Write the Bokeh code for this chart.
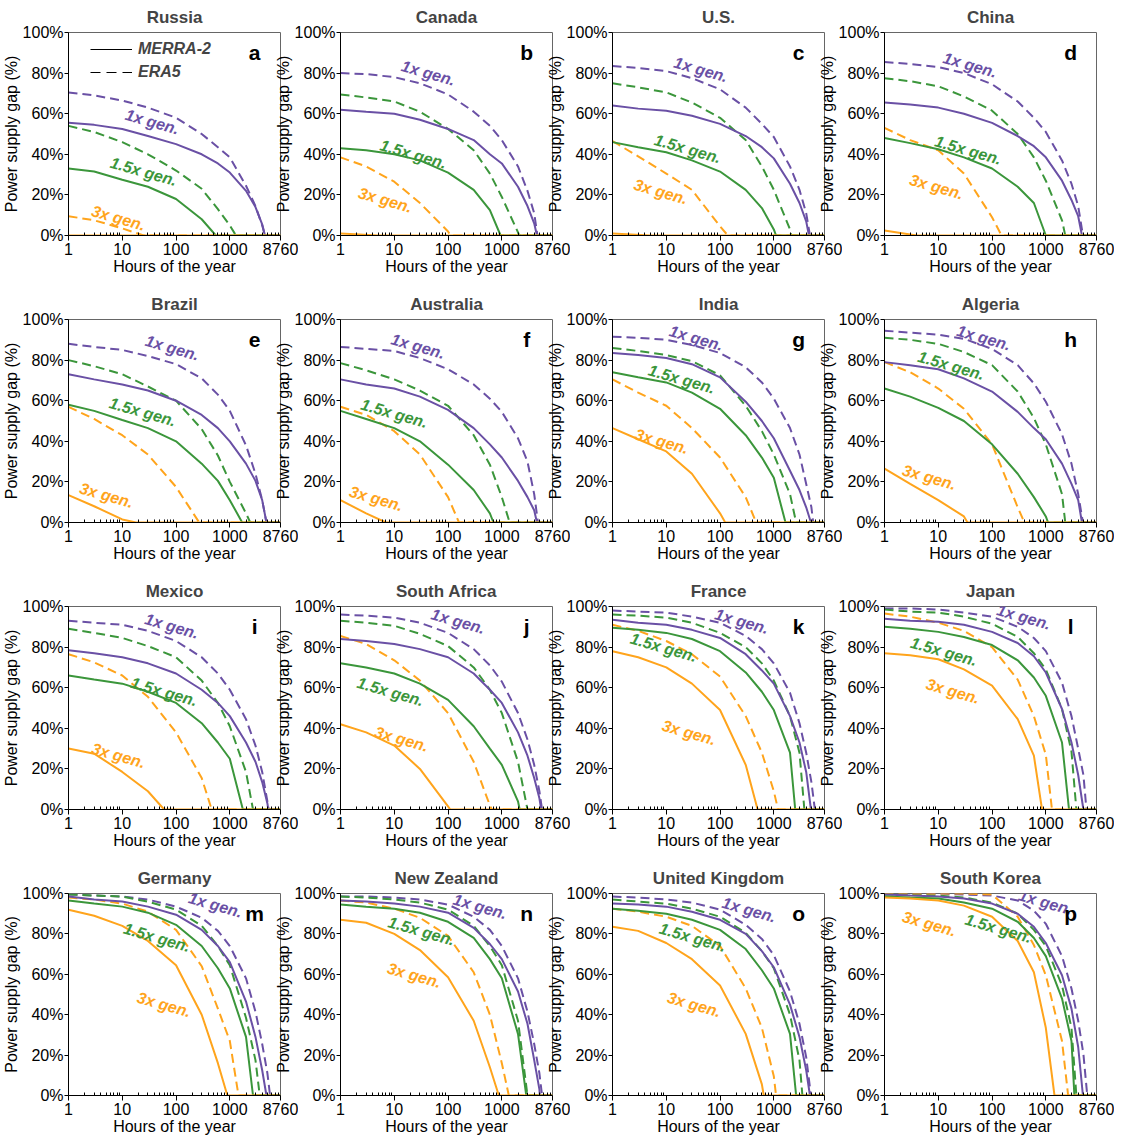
from bokeh.plotting import figure
from bokeh.layouts import row, column
from bokeh.models import (Range1d, FixedTicker, PrintfTickFormatter, Legend, LegendItem,
                          Label, ColumnDataSource)
from bokeh.core.properties import value
from bokeh.embed import file_html
from bokeh.resources import INLINE

# ---------------- data ----------------
# Values (%) at these hours; each series ends at 0 % at its "end" hour and stays 0 until 8760.
HOURS = [1, 3, 10, 30, 100, 300, 600, 1000, 2000, 3000, 4000, 5000]
YEAR_END = 8760

RUSSIA = {
    ("1x", "ERA5"): ([70.5, 69, 66.5, 63, 58, 50, 43.5, 38.5, 24.5, 14.5, 5], 4500),
    ("1x", "MERRA-2"): ([55.5, 54.5, 52.5, 49, 45, 40, 35.5, 31, 22, 14, 5.5], 4500),
    ("1.5x", "ERA5"): ([54, 51, 46, 40, 32, 23, 13, 5], 1300),
    ("1.5x", "MERRA-2"): ([33, 31.5, 27.5, 24, 18, 8], 550),
    ("3x", "ERA5"): ([9.5, 7.5, 3.5], 25),
    ("3x", "MERRA-2"): ([], 1),
}
CANADA = {
    ("1x", "ERA5"): ([80, 79.5, 78, 75, 69.5, 61, 54, 47, 34, 22, 11], 4600),
    ("1x", "MERRA-2"): ([62, 61, 60, 57, 52.5, 47, 40, 35.5, 24, 14.5, 6], 4500),
    ("1.5x", "ERA5"): ([69.5, 68, 66, 61, 52.5, 42, 30.5, 19, 1.5], 2100),
    ("1.5x", "MERRA-2"): ([43, 42, 40, 37, 31, 22.5, 12.5], 950),
    ("3x", "ERA5"): ([38.5, 34, 26.5, 16, 2], 110),
    ("3x", "MERRA-2"): ([1], 5),
}
US = {
    ("1x", "ERA5"): ([83.5, 82.5, 81, 77.5, 72, 63, 55, 48.5, 34, 22.5, 11], 4700),
    ("1x", "MERRA-2"): ([64, 62.5, 61.5, 59, 55, 49, 43.5, 38, 25.5, 16, 7], 4500),
    ("1.5x", "ERA5"): ([75, 73, 70.5, 65.5, 58, 47, 34, 22.5, 3], 2100),
    ("1.5x", "MERRA-2"): ([46, 43.5, 41, 37, 31.5, 22.5, 13.5, 3], 1100),
    ("3x", "ERA5"): ([46.5, 39, 30.5, 22.5, 4.5], 140),
    ("3x", "MERRA-2"): ([1], 5),
}
CHINA = {
    ("1x", "ERA5"): ([85.5, 84.5, 83, 80, 74.5, 66, 58, 51, 37, 25.5, 14.5], 4900),
    ("1x", "MERRA-2"): ([65.5, 64.5, 63, 60, 55.5, 49, 44, 38.5, 27, 17.5, 9.5], 4700),
    ("1.5x", "ERA5"): ([77.5, 76, 73.5, 68.5, 61.5, 50, 38.5, 27, 7.5], 2300),
    ("1.5x", "MERRA-2"): ([48, 45.5, 42.5, 38.5, 33, 24, 16], 1000),
    ("3x", "ERA5"): ([53, 47, 42, 30.5, 9], 150),
    ("3x", "MERRA-2"): ([2.5, 0.5], 4),
}
BRAZIL = {
    ("1x", "ERA5"): ([88, 86.5, 85, 82, 78, 71, 63, 55, 38, 24, 11], 4800),
    ("1x", "MERRA-2"): ([73, 70.5, 68, 65, 60, 53, 46.5, 40, 29, 20.5, 11], 4800),
    ("1.5x", "ERA5"): ([80, 77, 73, 67, 60, 46, 33, 20, 4.5], 2400),
    ("1.5x", "MERRA-2"): ([58, 55, 50.5, 46.5, 40, 29, 20.5, 11], 1700),
    ("3x", "ERA5"): ([57, 51, 43, 33.5, 17.5], 270),
    ("3x", "MERRA-2"): ([13.5, 8, 1.5], 18),
}
AUSTRALIA = {
    ("1x", "ERA5"): ([86.5, 85.5, 84.5, 81, 75.5, 68, 61, 54.5, 41.5, 30, 14], 4700),
    ("1x", "MERRA-2"): ([70.5, 68, 66, 62, 55.5, 46.5, 38.5, 32, 20.5, 12.5, 6], 4500),
    ("1.5x", "ERA5"): ([78.5, 75, 70.5, 65, 57.5, 43, 28.5, 12.5], 1400),
    ("1.5x", "MERRA-2"): ([55, 51, 46.5, 40, 28.5, 16, 4.5], 700),
    ("3x", "ERA5"): ([57, 53, 45, 33.5, 12.5], 160),
    ("3x", "MERRA-2"): ([11, 4.5], 7),
}
INDIA = {
    ("1x", "ERA5"): ([91.5, 91, 90, 87.5, 83.5, 76.5, 69, 61, 46.5, 33.5, 19, 7.5], 5400),
    ("1x", "MERRA-2"): ([83.5, 82.5, 81, 78, 71.5, 59.5, 50, 41.5, 25.5, 16, 7.5], 4900),
    ("1.5x", "ERA5"): ([86, 84.5, 82.5, 79.5, 72.5, 57.5, 45, 33.5, 14], 2600),
    ("1.5x", "MERRA-2"): ([74, 71.5, 69, 64, 56, 43, 32, 22], 1650),
    ("3x", "ERA5"): ([70.5, 64, 57.5, 46.5, 32, 12.5], 470),
    ("3x", "MERRA-2"): ([46.5, 41, 35, 24, 4.5], 125),
}
ALGERIA = {
    ("1x", "ERA5"): ([94.5, 93.5, 92.5, 90.5, 85.5, 77.5, 68.5, 59.5, 43.5, 29, 14], 4900),
    ("1x", "MERRA-2"): ([79, 77.5, 75.5, 71, 64.5, 54.5, 46.5, 41, 29, 19, 11], 4700),
    ("1.5x", "ERA5"): ([91, 90, 88, 84, 77.5, 64.5, 51.5, 38.5, 14], 2300),
    ("1.5x", "MERRA-2"): ([66, 62, 56.5, 50, 38.5, 24, 12.5, 3], 1100),
    ("3x", "ERA5"): ([79, 74, 66, 56, 38.5, 7.5], 400),
    ("3x", "MERRA-2"): ([26.5, 19, 11, 3], 35),
}
MEXICO = {
    ("1x", "ERA5"): ([93, 92, 91, 88, 83, 75, 67, 59, 44.5, 31.5, 18.5, 4], 5300),
    ("1x", "MERRA-2"): ([78.5, 77, 75, 72, 67, 59, 52.5, 46, 33, 23.5, 13.5, 3], 5200),
    ("1.5x", "ERA5"): ([89, 87, 84.5, 80.5, 75, 63.5, 52.5, 41, 18.5], 2700),
    ("1.5x", "MERRA-2"): ([66, 64, 62, 58, 52.5, 42.5, 33, 25], 1750),
    ("3x", "ERA5"): ([76.5, 72.5, 66, 55.5, 38, 15.5], 460),
    ("3x", "MERRA-2"): ([30, 27.5, 18.5, 9], 60),
}
SOUTH_AFRICA = {
    ("1x", "ERA5"): ([96, 95.5, 94.5, 92, 87, 79, 71, 63, 47.5, 34.5, 22, 9], 5600),
    ("1x", "MERRA-2"): ([84, 83, 81.5, 79, 75, 67, 59, 52.5, 38, 26.5, 15.5, 5.5], 5400),
    ("1.5x", "ERA5"): ([93, 92, 90.5, 86.5, 80.5, 70, 59, 47.5, 23.5], 3000),
    ("1.5x", "MERRA-2"): ([72, 70, 67, 62, 54, 41, 30, 22, 4], 2150),
    ("3x", "ERA5"): ([85.5, 81.5, 73.5, 63.5, 47.5, 23.5, 2], 650),
    ("3x", "MERRA-2"): ([42, 38, 31.5, 20, 1.5], 110),
}
FRANCE = {
    ("1x", "ERA5"): ([98, 97.5, 97, 95, 92, 85.5, 79, 72, 57.5, 42.5, 28, 13.5], 5800),
    ("1x", "MERRA-2"): ([93.5, 92, 91, 88.5, 84.5, 76.5, 68.5, 62, 46, 33, 18.5], 4900),
    ("1.5x", "ERA5"): ([96, 95.5, 94.5, 92, 87, 80, 72, 63.5, 46, 28], 3700),
    ("1.5x", "MERRA-2"): ([89.5, 88.5, 87, 84, 78, 67.5, 58, 49, 28], 2500),
    ("3x", "ERA5"): ([91, 88, 83, 76.5, 65.5, 46, 28, 9], 1200),
    ("3x", "MERRA-2"): ([78, 75, 70, 62, 49, 22], 500),
}
JAPAN = {
    ("1x", "ERA5"): ([99, 99, 98.5, 97, 95, 90, 84.5, 78, 62.5, 46, 30, 17], 5700),
    ("1x", "MERRA-2"): ([94, 93, 92.5, 91, 87.5, 82, 75.5, 67.5, 49.5, 33, 17], 5000),
    ("1.5x", "ERA5"): ([98.5, 97.5, 97, 95, 91.5, 85, 77, 69, 49.5, 28.5], 3700),
    ("1.5x", "MERRA-2"): ([90, 89, 87.5, 85, 81, 73.5, 65, 56, 33], 2700),
    ("3x", "ERA5"): ([96.5, 95, 92, 88, 80, 64, 46, 27], 1300),
    ("3x", "MERRA-2"): ([77, 76, 74, 69, 61, 44.5, 26.5], 850),
}
GERMANY = {
    ("1x", "ERA5"): ([99.5, 99, 98.5, 97, 93.5, 88, 81.5, 74, 58, 41.5, 25.5, 11], 5600),
    ("1x", "MERRA-2"): ([98.5, 97, 96, 93.5, 89.5, 82, 74, 66, 46.5, 29, 12.5], 4800),
    ("1.5x", "ERA5"): ([99.5, 99, 98.5, 96, 92, 84, 74, 64.5, 38.5, 17.5], 3600),
    ("1.5x", "MERRA-2"): ([96.5, 95, 93.5, 90.5, 84.5, 74, 63, 53, 29], 2700),
    ("3x", "ERA5"): ([98, 97, 95, 91, 82, 64, 43, 27], 1450),
    ("3x", "MERRA-2"): ([92, 89, 84, 76.5, 64.5, 40, 16], 900),
}
NEW_ZEALAND = {
    ("1x", "ERA5"): ([98.5, 98.5, 98, 97, 94.5, 88.5, 82, 74, 58, 41.5, 25.5, 11], 5600),
    ("1x", "MERRA-2"): ([96.5, 96, 95, 93.5, 90.5, 83, 75, 67.5, 51.5, 35.5, 17.5, 3], 5100),
    ("1.5x", "ERA5"): ([98.5, 98, 97, 95.5, 92, 84, 74, 64.5, 37], 3000),
    ("1.5x", "MERRA-2"): ([94.5, 93.5, 92.5, 90.5, 86, 78, 67.5, 58, 30.5], 2850),
    ("3x", "ERA5"): ([96.5, 95.5, 92.5, 88, 79, 61, 40, 16], 1350),
    ("3x", "MERRA-2"): ([87, 85.5, 80, 72, 58.5, 37, 14], 880),
}
UNITED_KINGDOM = {
    ("1x", "ERA5"): ([98.5, 98, 97, 95.5, 92, 84.5, 77.5, 69.5, 51.5, 35.5, 19], 4900),
    ("1x", "MERRA-2"): ([95, 94.5, 93.5, 91, 87, 80, 71.5, 63.5, 45, 29, 12.5], 4700),
    ("1.5x", "ERA5"): ([97, 96, 95, 92.5, 88.5, 80.5, 71.5, 63, 40, 17.5], 3400),
    ("1.5x", "MERRA-2"): ([92.5, 91.5, 90, 87, 82, 72.5, 62, 53, 30.5], 2600),
    ("3x", "ERA5"): ([92.5, 91, 88.5, 84, 74, 53, 33.5, 9.5], 1100),
    ("3x", "MERRA-2"): ([83.5, 81.5, 75.5, 67.5, 54.5, 30.5, 5.5], 650),
}
SOUTH_KOREA = {
    ("1x", "ERA5"): ([100, 100, 100, 99.5, 99, 96.5, 91.5, 85, 69, 53, 37, 20.5], 5900),
    ("1x", "MERRA-2"): ([99.5, 99, 98.5, 97.5, 95, 90, 83.5, 75.5, 59.5, 43, 24], 4900),
    ("1.5x", "ERA5"): ([99.5, 99.5, 99, 98, 95.5, 90, 82, 74, 54.5, 33.5], 3700),
    ("1.5x", "MERRA-2"): ([98.5, 98, 97.5, 95.5, 92.5, 86, 78, 69, 48, 27], 3400),
    ("3x", "ERA5"): ([100, 100, 100, 100, 99.5, 88.5, 74.5, 59.5, 27], 2600),
    ("3x", "MERRA-2"): ([98, 97.5, 96.5, 94, 88.5, 76.5, 61, 33.5], 1450),
}

PANELS = [
    ("Russia", "a", RUSSIA), ("Canada", "b", CANADA), ("U.S.", "c", US), ("China", "d", CHINA),
    ("Brazil", "e", BRAZIL), ("Australia", "f", AUSTRALIA), ("India", "g", INDIA), ("Algeria", "h", ALGERIA),
    ("Mexico", "i", MEXICO), ("South Africa", "j", SOUTH_AFRICA), ("France", "k", FRANCE), ("Japan", "l", JAPAN),
    ("Germany", "m", GERMANY), ("New Zealand", "n", NEW_ZEALAND), ("United Kingdom", "o", UNITED_KINGDOM),
    ("South Korea", "p", SOUTH_KOREA),
]

GEN_LEVELS = ["1x", "1.5x", "3x"]
DATASETS = ["ERA5", "MERRA-2"]

# in-panel annotation anchors (hours, %)
LABEL_POS = {
    "Russia": {"1x": (36, 56), "1.5x": (25, 31.5), "3x": (8.5, 8.6)},
    "Canada": {"1x": (43, 80), "1.5x": (22.6, 40), "3x": (6.8, 17.5)},
    "U.S.": {"1x": (44, 81.7), "1.5x": (25, 42.7), "3x": (7.9, 21.6)},
    "China": {"1x": (39, 84), "1.5x": (36, 42), "3x": (9.3, 24)},
    "Brazil": {"1x": (85, 86), "1.5x": (24, 54.5), "3x": (5.1, 13.4)},
    "Australia": {"1x": (27.6, 86.8), "1.5x": (10, 53.7), "3x": (4.6, 11.8)},
    "India": {"1x": (36, 90.8), "1.5x": (19.4, 70.6), "3x": (8.2, 40)},
    "Algeria": {"1x": (70, 91), "1.5x": (17.3, 77.3), "3x": (6.8, 22.3)},
    "Mexico": {"1x": (83, 90.3), "1.5x": (60, 58), "3x": (8.5, 26.6)},
    "South Africa": {"1x": (154, 92.7), "1.5x": (8.5, 58), "3x": (13.6, 34.7)},
    "France": {"1x": (254, 92.7), "1.5x": (8.9, 79.8), "3x": (26.5, 37.9)},
    "Japan": {"1x": (390, 94.8), "1.5x": (12.7, 77.8), "3x": (18.7, 58.3)},
    "Germany": {"1x": (540, 94.3), "1.5x": (44, 78.2), "3x": (60, 45)},
    "New Zealand": {"1x": (395, 93.5), "1.5x": (32, 81.4), "3x": (23.6, 59.5)},
    "United Kingdom": {"1x": (347, 91.9), "1.5x": (31, 78.2), "3x": (33, 45)},
    "South Korea": {"1x": (990, 95.6), "1.5x": (131, 82.7), "3x": (6.8, 85)},
}
LETTER_POS = (2900, 90)

X_TICKS = [1, 10, 100, 1000, 8760]
X_MINOR = [2, 3, 4, 5, 6, 7, 8, 9, 20, 30, 40, 50, 60, 70, 80, 90,
           200, 300, 400, 500, 600, 700, 800, 900, 2000, 3000, 4000, 5000, 6000, 7000, 8000]
Y_TICKS = [0, 20, 40, 60, 80, 100]

# ---------------- styles ----------------
FONT = "Liberation Sans"
COLORS = {"1x": "#6a50a5", "1.5x": "#3b963b", "3x": "#ffa41c"}
DASH = {"MERRA-2": "solid", "ERA5": "9 5"}


def series_xy(vals, end):
    xs = HOURS[:len(vals)] + [end, YEAR_END]
    ys = list(vals) + [0, 0]
    return xs, ys


def make_panel(name, letter, data, r, c):
    last = r == 3
    p = figure(width=299, height=272 if last else 287,
               x_axis_type="log", x_range=Range1d(1, YEAR_END), y_range=Range1d(0, 100),
               output_backend="svg", toolbar_location=None, title=name,
               min_border_left=69, min_border_right=18, min_border_top=27,
               min_border_bottom=40 if last else 56,
               margin=(4 if r == 0 else 0, 0, 0, -1 if c == 0 else -27))
    p.border_fill_color = None
    p.background_fill_color = "white"
    p.outline_line_color = "#666666"
    p.xgrid.visible = False
    p.ygrid.visible = False

    p.title.text_font = FONT
    p.title.text_font_size = "17px"
    p.title.text_font_style = "bold"
    p.title.align = "center"
    p.title.vertical_align = "top"
    p.title.standoff = 7

    p.xaxis.ticker = FixedTicker(ticks=X_TICKS, minor_ticks=X_MINOR)
    p.xaxis.formatter = PrintfTickFormatter(format="%d")
    p.yaxis.ticker = FixedTicker(ticks=Y_TICKS)
    p.yaxis.formatter = PrintfTickFormatter(format="%d%%")
    p.xaxis.axis_label = "Hours of the year"
    p.yaxis.axis_label = "Power supply gap (%)"
    for ax in (p.xaxis[0], p.yaxis[0]):
        ax.major_label_text_font = FONT
        ax.major_label_text_font_size = "16px"
        ax.major_label_text_color = "black"
        ax.axis_label_text_font = FONT
        ax.axis_label_text_font_size = "16px"
        ax.axis_label_text_font_style = "normal"
        ax.axis_label_text_color = "black"
        ax.axis_line_color = "black"
        ax.major_tick_line_color = "black"
        ax.minor_tick_line_color = "black"
        ax.major_tick_in = 0
        ax.axis_label_standoff = 0
    p.xaxis.major_tick_out = 5
    p.xaxis.minor_tick_in = 3
    p.xaxis.minor_tick_out = 0
    p.xaxis.major_label_standoff = 2
    p.yaxis.major_tick_out = 4
    p.yaxis.minor_tick_in = 0
    p.yaxis.minor_tick_out = 0
    p.yaxis.major_label_standoff = 1

    for ds in DATASETS:
        for g in GEN_LEVELS:
            vals, end = data[(g, ds)]
            xs, ys = series_xy(vals, end)
            p.line(xs, ys, line_color=COLORS[g], line_width=2, line_dash=DASH[ds])

    pos = LABEL_POS[name]
    src = ColumnDataSource(dict(
        x=[pos[g][0] for g in GEN_LEVELS],
        y=[pos[g][1] for g in GEN_LEVELS],
        t=[g + " gen." for g in GEN_LEVELS],
        col=[COLORS[g] for g in GEN_LEVELS],
    ))
    p.text(x="x", y="y", text="t", text_color="col", source=src, angle=-0.28,
           text_font=value(FONT), text_font_style="bold italic", text_font_size="16px",
           text_align="center", text_baseline="middle")

    p.add_layout(Label(x=LETTER_POS[0], y=LETTER_POS[1], text=letter, text_font=FONT,
                       text_font_size="21px", text_font_style="bold", text_color="black",
                       text_align="center", text_baseline="middle"))

    if name == "Russia":
        # legend key renderers (hidden in the plot, shown only as legend glyphs)
        kx, ky = series_xy(*data[("1x", "MERRA-2")])
        r1 = p.line(kx, ky, line_color="black", line_width=1.2, visible=False)
        r2 = p.line(kx, ky, line_color="black", line_width=1.2, line_dash="10 6", visible=False)
        legend = Legend(items=[LegendItem(label="MERRA-2", renderers=[r1]),
                               LegendItem(label="ERA5", renderers=[r2])],
                        location=(22, 153), padding=0, margin=0, spacing=3,
                        glyph_width=42, glyph_height=20, label_height=20, label_standoff=6,
                        label_text_font=FONT, label_text_font_size="16px",
                        label_text_font_style="bold italic",
                        inactive_fill_alpha=0,
                        background_fill_alpha=0, border_line_alpha=0)
        p.add_layout(legend)
    return p


rows = []
for r in range(4):
    figs = []
    for c in range(4):
        name, letter, data = PANELS[r * 4 + c]
        figs.append(make_panel(name, letter, data, r, c))
    rows.append(row(*figs, spacing=0))
layout = column(*rows, spacing=0)

open("out.html", "w").write(file_html(layout, INLINE))
